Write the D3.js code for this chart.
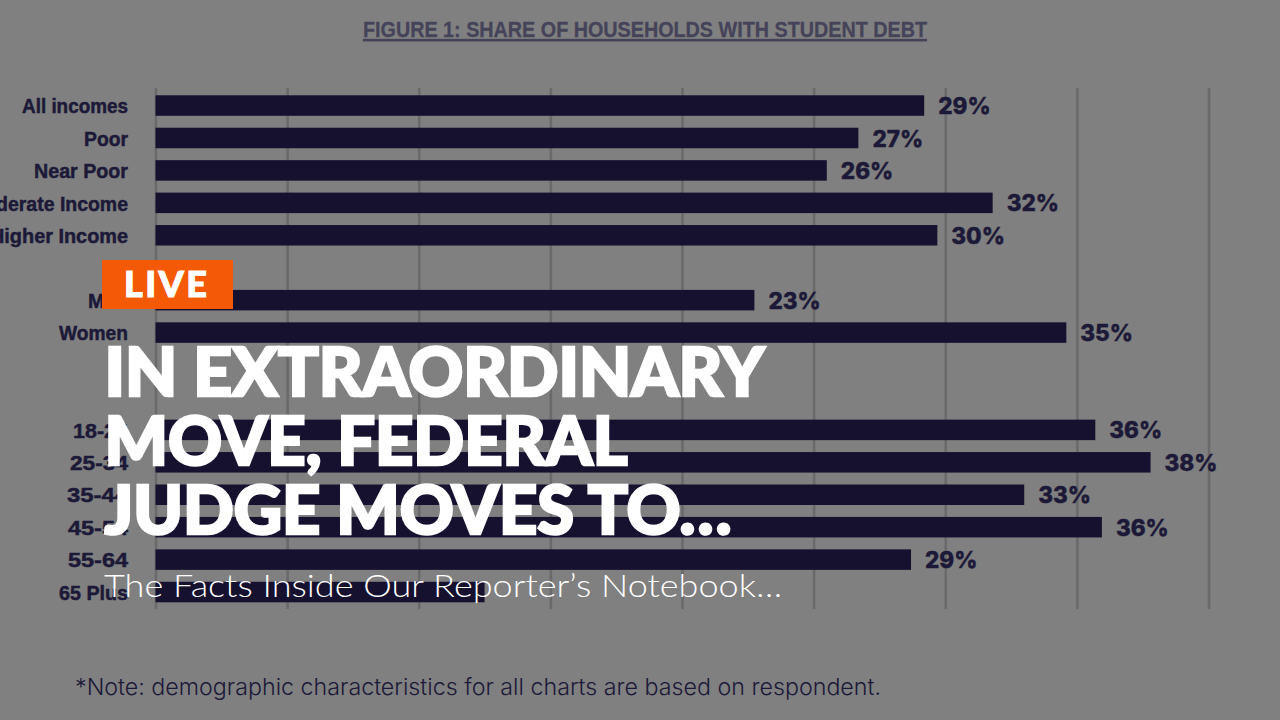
<!DOCTYPE html>
<html>
<head>
<meta charset="utf-8">
<script src="https://cdn.jsdelivr.net/npm/d3@7"></script>
<style>
  html, body { margin: 0; padding: 0; background: #808080; overflow: hidden; }
  svg { display: block; }
</style>
</head>
<body>
<svg id="chart"></svg>
<script>
// Rows of the chart, the "gap" names only leave empty space between groups
const categories = ["All incomes", "Poor", "Near Poor", "Moderate Income", "Higher Income", "gap1",
    "Men", "Women", "gap2", "gap3",
    "18-24", "25-34", "35-44", "45-54", "55-64", "65 Plus"];

const barCategories = ["All incomes", "Poor", "Near Poor", "Moderate Income", "Higher Income",
    "Men", "Women",
    "18-24", "25-34", "35-44", "45-54", "55-64", "65 Plus"];
const barValues = [29.2, 26.7, 25.5, 31.8, 29.7, 22.75, 34.6, 35.7, 37.8, 33, 35.95, 28.7, 12.5];
const barLabels = ["29%", "27%", "26%", "32%", "30%", "23%", "35%", "36%", "38%", "33%", "36%", "29%", ""];
const gridTicks = [0, 5, 10, 15, 20, 25, 30, 35, 40];

const figureTitle = "FIGURE 1: SHARE OF HOUSEHOLDS WITH STUDENT DEBT";
const footNote = "*Note: demographic characteristics for all charts are based on respondent.";
const badgeText = "LIVE";
const headlineLines = ["IN EXTRAORDINARY", "MOVE, FEDERAL", "JUDGE MOVES TO\u2026"];
const subHeadline = "The Facts Inside Our Reporter\u2019s Notebook\u2026";

const width = 1280;
const height = 720;
const barColor = "#15112f";
const textColor = "#1c1938";

// Squeeze the category labels to the reference widths, no condensed font here
const labelWidths = new Map([
    ["All incomes", 106], ["Poor", 44], ["Near Poor", 94], ["Moderate Income", 160], ["Higher Income", 138],
    ["Men", 40], ["Women", 69],
    ["18-24", 55], ["25-34", 58], ["35-44", 61], ["45-54", 60], ["55-64", 60], ["65 Plus", 69]
]);

const svg = d3.select("#chart")
    .attr("width", width)
    .attr("height", height);

const x = d3.scaleLinear().domain([0, 40]).range([155.5, 1208.5]);
const y = d3.scaleBand().domain(categories).range([95.3, 602.3]).paddingInner(0.368).paddingOuter(0);

// Gridlines
const grid = svg.append("g")
    .attr("transform", "translate(0,88)")
    .call(d3.axisBottom(x).tickValues(gridTicks).tickSize(521).tickFormat(""));
grid.select(".domain").remove();
grid.selectAll("line").attr("stroke", "#6a6a6a").attr("stroke-width", 2.6);

// Bars
svg.append("g").selectAll("rect")
    .data(barCategories)
    .join("rect")
    .attr("x", x(0))
    .attr("y", d => y(d))
    .attr("width", (d, i) => x(barValues[i]) - x(0))
    .attr("height", y.bandwidth())
    .attr("fill", barColor);

// Category labels
const yAxis = svg.append("g")
    .attr("transform", "translate(128,1)")
    .call(d3.axisLeft(y).tickSize(0).tickPadding(0));
yAxis.select(".domain").remove();
yAxis.selectAll(".tick").filter(d => d.startsWith("gap")).remove();
yAxis.selectAll("text")
    .attr("fill", textColor)
    .attr("stroke", textColor)
    .attr("stroke-width", 0.5)
    .style("font-family", "'Liberation Sans', sans-serif")
    .style("font-weight", 700)
    .style("font-size", "21px")
    .attr("lengthAdjust", "spacingAndGlyphs")
    .attr("textLength", d => labelWidths.get(d));

// Value labels
svg.append("g").selectAll("text")
    .data(barCategories)
    .join("text")
    .attr("x", (d, i) => x(barValues[i]) + 14)
    .attr("y", d => y(d) + y.bandwidth() / 2)
    .attr("dy", "0.38em")
    .attr("fill", textColor)
    .attr("stroke", textColor)
    .attr("stroke-width", 0.4)
    .style("font-family", "'Inter', sans-serif")
    .style("font-weight", 800)
    .style("font-size", "22.5px")
    .text((d, i) => barLabels[i]);

// Title
svg.append("text")
    .attr("x", 645)
    .attr("y", 37)
    .attr("text-anchor", "middle")
    .attr("fill", "#45435a")
    .attr("stroke", "#45435a")
    .attr("stroke-width", 0.3)
    .attr("text-decoration", "underline")
    .attr("textLength", 564)
    .attr("lengthAdjust", "spacingAndGlyphs")
    .style("font-family", "'Liberation Sans', sans-serif")
    .style("font-weight", 700)
    .style("font-size", "22px")
    .text(figureTitle);

// Footnote
svg.append("text")
    .attr("x", 75)
    .attr("y", 695)
    .attr("fill", textColor)
    .attr("textLength", 806)
    .attr("lengthAdjust", "spacingAndGlyphs")
    .style("font-family", "'Inter', sans-serif")
    .style("font-weight", 300)
    .style("font-size", "23px")
    .text(footNote);

// Live badge and headline sit on top of the chart
svg.append("rect")
    .attr("x", 102)
    .attr("y", 260)
    .attr("width", 131)
    .attr("height", 49)
    .attr("fill", "#f45a05");

svg.append("text")
    .attr("x", 124)
    .attr("y", 296.5)
    .attr("fill", "#fff")
    .attr("stroke", "#fff")
    .attr("stroke-width", 1)
    .attr("textLength", 83)
    .style("font-family", "'Lato', sans-serif")
    .style("font-weight", 900)
    .style("font-size", "36px")
    .text(badgeText);

const headlineWidths = [660, 523, 627];
svg.append("g").selectAll("text")
    .data(headlineLines)
    .join("text")
    .attr("x", 104.5)
    .attr("y", (d, i) => 396 + i * 69)
    .attr("fill", "#fff")
    .attr("stroke", "#fff")
    .attr("stroke-width", 2.6)
    .attr("textLength", (d, i) => headlineWidths[i])
    .attr("lengthAdjust", "spacingAndGlyphs")
    .style("font-family", "'Lato', sans-serif")
    .style("font-weight", 900)
    .style("font-size", "66px")
    .text(d => d);

svg.append("text")
    .attr("x", 104)
    .attr("y", 597)
    .attr("fill", "#fff")
    .attr("textLength", 678)
    .attr("lengthAdjust", "spacingAndGlyphs")
    .style("font-family", "'Lato', sans-serif")
    .style("font-weight", 300)
    .style("font-size", "32px")
    .text(subHeadline);
</script>
</body>
</html>
